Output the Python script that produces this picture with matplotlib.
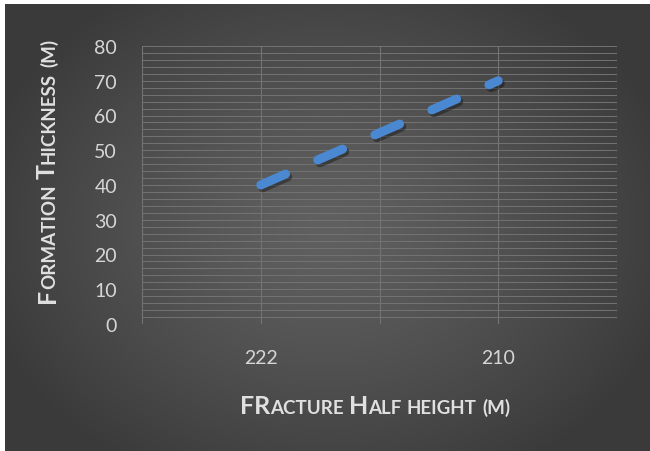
import numpy as np
import matplotlib
matplotlib.use("Agg")
import matplotlib.pyplot as plt
from matplotlib.transforms import IdentityTransform
import matplotlib.patheffects as pe

# Chart data
categories = ["222", "210"]
thickness = [40, 70]
y_ticks = [0, 10, 20, 30, 40, 50, 60, 70, 80]

W, H = 650, 452
DPI = 100
FONT = "Lato"
LABEL_COLOR = "#e0e0e0"
TICK_COLOR = "#d6d6d6"
GRID_COLOR = "#737373"
LINE_COLOR = "#4a88d2"

fig = plt.figure(figsize=(W / DPI, H / DPI), dpi=DPI)
fig.patch.set_facecolor("white")

# Radial gradient backdrop (chart area inside a thin white frame)
bg = fig.add_axes([5 / W, 0, 645 / W, 447 / H])
bg.set_axis_off()
gx, gy = np.meshgrid(np.linspace(0, 1, 400), np.linspace(0, 1, 300))
r = np.sqrt(((gx - 0.5) / 0.75) ** 2 + ((gy - 0.5) / 0.85) ** 2)
r = np.clip(r / 0.75, 0, 1)
inner, outer = 0x60, 0x3a
lum = (inner + (outer - inner) * r ** 1.3) / 255.0
img = np.dstack([lum, lum, lum * 1.005])
bg.imshow(np.clip(img, 0, 1), aspect="auto", extent=[0, 1, 0, 1], interpolation="bilinear")

# Plot area
ax = fig.add_axes([142 / W, 1 - 325 / H, (617 - 142) / W, (325 - 47) / H])
ax.patch.set_alpha(0)
x = np.arange(len(categories))
ax.set_xlim(-0.5, len(categories) - 0.5)
ax.set_ylim(0, 80)

# Gridlines: every 2 units horizontally, category centres and edges vertically
for v in np.arange(0, 81, 2):
    ax.axhline(v, color=GRID_COLOR, lw=0.7, zorder=1)
for v in np.arange(-0.5, len(categories), 0.5):
    ax.axvline(v, color=GRID_COLOR, lw=0.8, zorder=1)
for s in ax.spines.values():
    s.set_visible(False)

ax.plot(x, thickness, color=LINE_COLOR, lw=6.5, solid_capstyle="round",
        dash_capstyle="round", linestyle=(0, (3.0, 3.9)), zorder=3,
        path_effects=[pe.SimpleLineShadow(offset=(1.5, -2), shadow_color="black", alpha=0.35),
                      pe.Normal()])

ax.set_xticks(x)
ax.set_xticklabels(categories)
ax.set_yticks(y_ticks)
ax.tick_params(axis="both", length=0, labelsize=14, colors=TICK_COLOR)
ax.tick_params(axis="x", pad=18)
ax.tick_params(axis="y", pad=18)
for lbl in ax.get_xticklabels() + ax.get_yticklabels():
    lbl.set_fontfamily(FONT)

fig.canvas.draw()
renderer = fig.canvas.get_renderer()

BIG, SMALL = 18, 13.5


def small_caps_runs(words):
    """words: list of (capital_part, small_part) tuples."""
    runs = []
    for i, (big, small) in enumerate(words):
        if i:
            runs.append((None, SMALL))
        if big:
            runs.append((big, BIG))
        if small:
            runs.append((small, SMALL))
    return runs


def draw_runs(runs, cx, cy, vertical):
    rot = 90 if vertical else 0
    made = []
    lengths = []
    for s, size in runs:
        if s is None:
            lengths.append(0.28 * size * DPI / 72)
            made.append(None)
            continue
        t = fig.text(0, 0, s, fontsize=size, fontweight="bold", family=FONT,
                     color=LABEL_COLOR, rotation=rot, rotation_mode="anchor",
                     ha="left", va="baseline", transform=IdentityTransform())
        bb = t.get_window_extent(renderer)
        lengths.append(bb.height if vertical else bb.width)
        made.append(t)
    total = sum(lengths)
    pos = -total / 2
    for t, L in zip(made, lengths):
        if t is not None:
            if vertical:
                t.set_position((cx, cy + pos))
            else:
                t.set_position((cx + pos, cy))
        pos += L


# Axis titles in small caps (pixel coordinates, origin at bottom-left)
draw_runs(small_caps_runs([("FR", "ACTURE"), ("H", "ALF"), ("", "HEIGHT"), ("", "(M)")]),
          375, H - 414, vertical=False)
draw_runs(small_caps_runs([("F", "ORMATION"), ("T", "HICKNESS"), ("", "(M)")]),
          55, H - 171, vertical=True)

fig.savefig("out.png", dpi=DPI, facecolor=fig.get_facecolor())
